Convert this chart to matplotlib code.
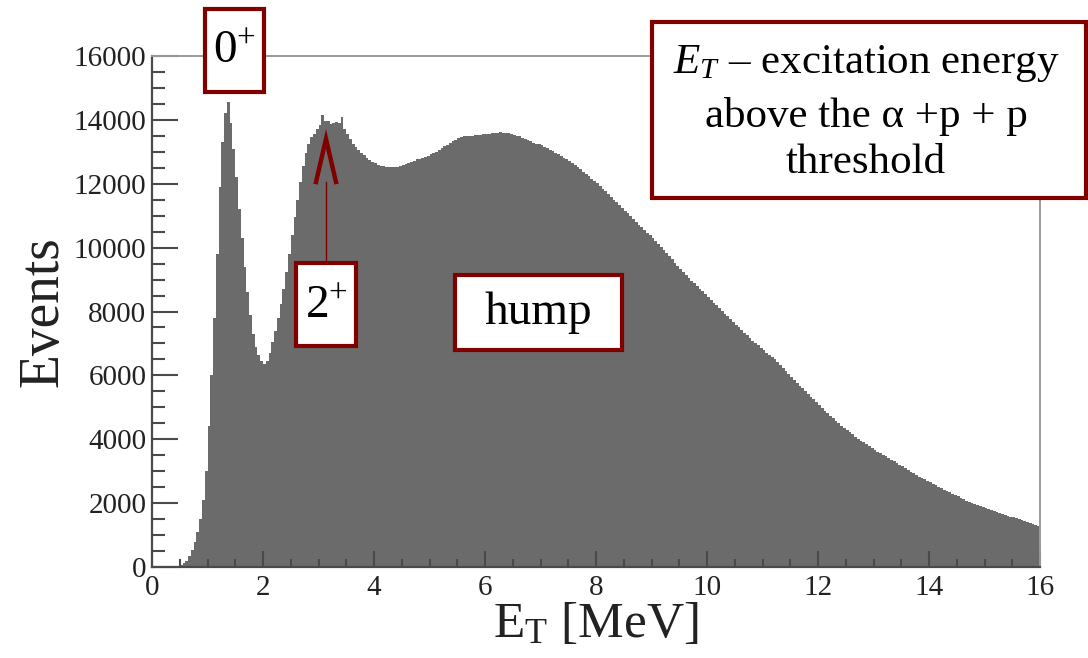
import numpy as np
import matplotlib
matplotlib.use("Agg")
import matplotlib.pyplot as plt
from matplotlib.patches import Rectangle
from matplotlib.lines import Line2D
from matplotlib.ticker import MultipleLocator

plt.rcParams["font.family"] = ["Liberation Serif", "DejaVu Serif"]
plt.rcParams["mathtext.fontset"] = "custom"
plt.rcParams["mathtext.rm"] = "Liberation Serif"
plt.rcParams["mathtext.it"] = "Liberation Serif:italic"

# Histogram of E_T, 0.05 MeV bins from 0 to 16 MeV (one row per MeV)
bin_edges = np.round(np.arange(0.0, 16.0001, 0.05), 3)
counts_0_4 = [
    0, 0, 0, 0, 0, 0, 5, 10, 15, 30, 60, 110, 190, 330, 520, 780, 1100, 1500, 2100, 3000,
    4400, 6000, 7800, 9800, 11900, 13300, 14200, 14550, 13900, 13100,
    12200, 11200, 10300, 9400, 8600, 7900, 7300, 6900, 6650, 6450,
    6350, 6450, 6700, 7050, 7400, 7800, 8250, 8700, 9250, 9800,
    10400, 10950, 11500, 12050, 12550, 12950, 13250, 13450, 13550, 13700,
    13850, 14150, 13950, 13950, 13880, 13900, 13920, 13900, 14080, 13700,
    13550, 13400, 13250, 13150, 13050, 12960, 12900, 12820, 12750, 12680,
]
counts_4_8 = [
    12640, 12600, 12570, 12560, 12540, 12520, 12510, 12520, 12540, 12560,
    12600, 12630, 12660, 12690, 12720, 12760, 12790, 12820, 12850, 12880,
    12920, 12960, 13000, 13060, 13110, 13170, 13220, 13270, 13330, 13380,
    13430, 13460, 13480, 13490, 13500, 13510, 13520, 13530, 13540, 13550,
    13560, 13570, 13580, 13590, 13600, 13610, 13600, 13590, 13580, 13560,
    13540, 13510, 13480, 13440, 13400, 13370, 13330, 13290, 13260, 13230,
    13200, 13150, 13110, 13060, 13020, 12970, 12920, 12870, 12820, 12760,
    12700, 12640, 12580, 12510, 12450, 12380, 12320, 12240, 12160, 12090,
]
counts_8_12 = [
    12010, 11930, 11850, 11760, 11680, 11590, 11500, 11420, 11330, 11250,
    11160, 11070, 10990, 10900, 10810, 10720, 10640, 10550, 10460, 10380,
    10290, 10200, 10110, 10030, 9940, 9840, 9740, 9630, 9520, 9420,
    9320, 9230, 9140, 9060, 8970, 8890, 8800, 8720, 8630, 8550,
    8460, 8370, 8280, 8200, 8110, 8020, 7930, 7850, 7760, 7670,
    7590, 7500, 7410, 7330, 7250, 7170, 7090, 7010, 6940, 6860,
    6790, 6710, 6640, 6570, 6500, 6420, 6330, 6240, 6150, 6050,
    5960, 5860, 5760, 5670, 5590, 5500, 5420, 5330, 5250, 5160,
]
counts_12_16 = [
    5070, 4990, 4900, 4820, 4740, 4660, 4580, 4500, 4430, 4360,
    4290, 4220, 4150, 4080, 4020, 3960, 3900, 3840, 3780, 3720,
    3660, 3610, 3560, 3510, 3460, 3410, 3360, 3310, 3260, 3200,
    3150, 3090, 3040, 2990, 2940, 2880, 2830, 2780, 2740, 2690,
    2650, 2600, 2560, 2510, 2470, 2420, 2380, 2340, 2300, 2250,
    2210, 2160, 2120, 2080, 2040, 2000, 1970, 1940, 1910, 1880,
    1850, 1820, 1790, 1750, 1720, 1690, 1660, 1630, 1600, 1580,
    1550, 1520, 1490, 1460, 1430, 1400, 1370, 1340, 1310, 1280,
]
counts = counts_0_4 + counts_4_8 + counts_8_12 + counts_12_16

x_ticks = [0, 2, 4, 6, 8, 10, 12, 14, 16]
y_ticks = [0, 2000, 4000, 6000, 8000, 10000, 12000, 14000, 16000]

W, H = 1088, 658
fig = plt.figure(figsize=(W / 100, H / 100), dpi=100)
ax = fig.add_axes([152 / W, 1 - 567 / H, (1040 - 152) / W, (567 - 56) / H])

ax.stairs(counts, bin_edges, fill=True, color="#6b6b6b", linewidth=0)

ax.set_xlim(0, 16)
ax.set_ylim(0, 16000)
ax.set_xticks(x_ticks)
ax.set_yticks(y_ticks)
ax.xaxis.set_minor_locator(MultipleLocator(0.5))
ax.yaxis.set_minor_locator(MultipleLocator(500))

axis_col = "#4a4a4a"
for side in ("left", "bottom"):
    ax.spines[side].set_color(axis_col)
    ax.spines[side].set_linewidth(1.6)
for side in ("top", "right"):
    ax.spines[side].set_color("#9a9a9a")
    ax.spines[side].set_linewidth(1.4)

ax.tick_params(axis="both", which="both", direction="in", colors=axis_col,
               top=False, right=False, labelsize=21, labelcolor="#222222")
ax.tick_params(axis="y", which="major", length=19, width=1.5, pad=4)
ax.tick_params(axis="y", which="minor", length=9.5, width=1.5)
ax.tick_params(axis="x", which="major", length=11.5, width=1.5, pad=6)
ax.tick_params(axis="x", which="minor", length=6, width=1.5)

ax.set_xlabel(r"E$_\mathrm{T}$ [MeV]", fontsize=37, color="#222222", labelpad=0)
ax.set_ylabel("Events", fontsize=40, color="#222222", labelpad=3)

# Annotation boxes (pixel coordinates of the figure)
red = "#800000"


def px_box(x0, y0, x1, y1):
    rect = Rectangle((x0 / W, 1 - y1 / H), (x1 - x0) / W, (y1 - y0) / H,
                     transform=fig.transFigure, facecolor="white",
                     edgecolor=red, linewidth=3, zorder=5)
    fig.add_artist(rect)


def px_text(x, y, s, size, **kw):
    fig.text(x / W, 1 - y / H, s, fontsize=size, ha="center", va="center",
             color="black", zorder=6, **kw)


px_box(205, 9, 264, 92)
px_text(234, 52, r"$\mathrm{0}^{+}$", 34)

px_box(296, 263, 356, 346)
px_text(326, 307, r"$\mathrm{2}^{+}$", 34)

px_box(455, 275, 622, 350)
px_text(538, 313, "hump", 34)

px_box(652, 22, 1086, 198)
px_text(866, 64, r"$E_T$ – excitation energy", 31)
px_text(866, 117, "above the α +p + p", 31)
px_text(866, 163, "threshold", 31)

# Arrow from the 2+ box to the peak
fig.add_artist(Line2D([326 / W, 326 / W], [1 - 263 / H, 1 - 182 / H],
                      transform=fig.transFigure, color=red, linewidth=1.0, zorder=6))
fig.add_artist(Line2D([316 / W, 326 / W, 336 / W],
                      [1 - 182 / H, 1 - 139 / H, 1 - 182 / H],
                      transform=fig.transFigure, color=red, linewidth=3.2,
                      solid_joinstyle="miter", zorder=6))

fig.savefig("out.png", dpi=100, facecolor="white")
